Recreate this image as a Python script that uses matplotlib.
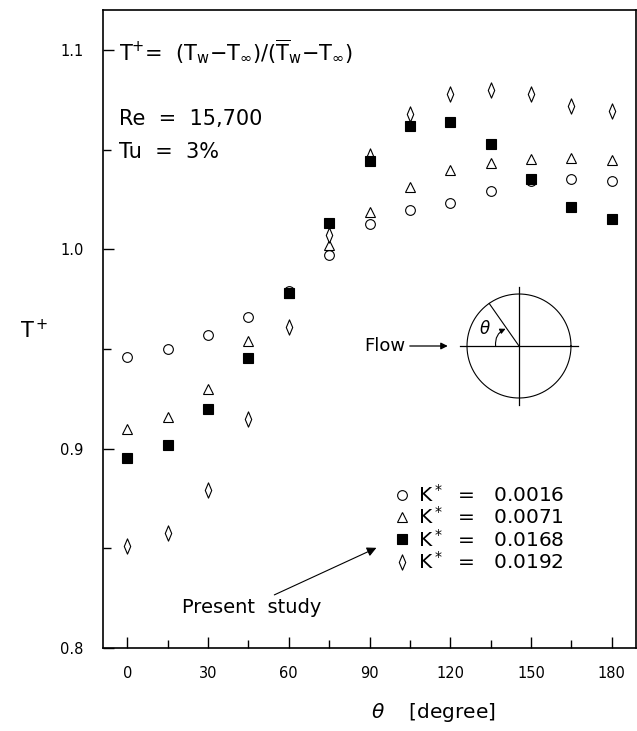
import numpy as np
import matplotlib
matplotlib.use("Agg")
import matplotlib.pyplot as plt
from matplotlib.path import Path
from matplotlib.ticker import MultipleLocator

# angular position around the cylinder, degrees from the front stagnation point
theta = [0, 15, 30, 45, 60, 75, 90, 105, 120, 135, 150, 165, 180]

# T+ distributions for each roughness parameter K*
t_k0016 = [0.946, 0.950, 0.957, 0.966, 0.979, 0.997, 1.0125, 1.0195, 1.023, 1.029, 1.034, 1.035, 1.034]
t_k0071 = [0.910, 0.916, 0.930, 0.954, 0.978, 1.002, 1.0185, 1.031, 1.0395, 1.0435, 1.0455, 1.046, 1.045]
t_k0168 = [0.8955, 0.902, 0.920, 0.9455, 0.978, 1.013, 1.0445, 1.062, 1.064, 1.053, 1.035, 1.021, 1.015]
t_k0192 = [0.851, 0.8575, 0.879, 0.915, 0.961, 1.007, 1.047, 1.068, 1.078, 1.080, 1.078, 1.072, 1.0695]

k_labels = ["0.0016", "0.0071", "0.0168", "0.0192"]
x_ticks = [0, 30, 60, 90, 120, 150, 180]
y_ticks = [0.8, 0.9, 1.0, 1.1]

# tall, narrow diamond like the plotter symbol
thin_diamond = Path([(0, 1), (0.42, 0), (0, -1), (-0.42, 0), (0, 1)],
                    [Path.MOVETO, Path.LINETO, Path.LINETO, Path.LINETO, Path.CLOSEPOLY])

W, H = 637, 731
fig = plt.figure(figsize=(W / 100, H / 100), dpi=100)
ax = fig.add_axes([103 / W, 1 - 648 / H, 533 / W, 638 / H])

mk = dict(linestyle="none", markeredgecolor="black", markeredgewidth=0.8)
h1, = ax.plot(theta, t_k0016, marker="o", markersize=7, markerfacecolor="white", **mk)
h2, = ax.plot(theta, t_k0071, marker="^", markersize=6.5, markerfacecolor="white", **mk)
h4, = ax.plot(theta, t_k0192, marker=thin_diamond, markersize=11, markerfacecolor="white", **mk)
h3, = ax.plot(theta, t_k0168, marker="s", markersize=6.5, markerfacecolor="black", **mk)

ax.set_xlim(-9, 189)
ax.set_ylim(0.8, 1.12)
ax.set_xticks(x_ticks)
ax.set_yticks(y_ticks)
ax.set_yticklabels(["0.8", "0.9", "1.0", "1.1"])
ax.xaxis.set_minor_locator(MultipleLocator(15))
ax.yaxis.set_minor_locator(MultipleLocator(0.05))
ax.tick_params(which="major", direction="in", length=8, width=1, labelsize=10.5, pad=14)
ax.tick_params(which="minor", direction="in", length=6, width=1)
ax.tick_params(axis="x", which="major", pad=13)
for s in ax.spines.values():
    s.set_linewidth(1.2)

ax.set_xlabel(r"$\theta$    [degree]", fontsize=14.5)
ax.xaxis.set_label_coords(0.62, -0.083)
fig.text(20 / W, 1 - 330 / H, r"T$^+$", fontsize=15, ha="left", va="center")

# header texts
eq = (r"T$^{+}$=  (T$_\mathrm{w}$$-$T$_\infty$)/"
      r"($\overline{\mathrm{T}}_\mathrm{w}$$-$T$_\infty$)")
ax.text(0.03, 0.934, eq, transform=ax.transAxes, fontsize=15, va="center")
ax.text(0.03, 0.829, "Re  =  15,700", transform=ax.transAxes, fontsize=15, va="center")
ax.text(0.03, 0.777, "Tu  =  3%", transform=ax.transAxes, fontsize=15, va="center")

leg = ax.legend([h1, h2, h3, h4], [r"K$^*$  =   " + k for k in k_labels],
                loc="upper left", bbox_to_anchor=(0.535, 0.27), frameon=False,
                fontsize=14.5, handlelength=0.6, handletextpad=0.5, labelspacing=0.02,
                borderaxespad=0)

ax.annotate("Present  study", xy=(0.513, 0.157), xytext=(0.148, 0.064),
            xycoords="axes fraction", textcoords="axes fraction", fontsize=14,
            va="center", ha="left",
            arrowprops=dict(arrowstyle="-|>", color="black", lw=0.8,
                            shrinkA=0, shrinkB=0, relpos=(0.62, 1.0)))

# cylinder sketch with flow direction and angle definition
cx, cy, r = 519, 346, 52
half = 64
ins = fig.add_axes([(cx - half) / W, 1 - (cy + half) / H, 2 * half / W, 2 * half / H])
ins.set_xlim(-half / r, half / r)
ins.set_ylim(-half / r, half / r)
ins.set_aspect("equal")
ins.axis("off")
phi = np.linspace(0, 2 * np.pi, 200)
ins.plot(np.cos(phi), np.sin(phi), color="black", lw=0.8)
ins.plot([-1.13, 1.13], [0, 0], color="black", lw=0.9)
ins.plot([0, 0], [-1.13, 1.13], color="black", lw=0.9)
a = np.deg2rad(125)
ins.plot([0, np.cos(a)], [0, np.sin(a)], color="black", lw=0.8)
ins.annotate("", xy=(0.42 * np.cos(np.deg2rad(128)), 0.42 * np.sin(np.deg2rad(128))),
             xytext=(-0.45, 0.0), arrowprops=dict(arrowstyle="-|>", color="black", lw=0.8,
                                                  connectionstyle="arc3,rad=-0.35",
                                                  shrinkA=0, shrinkB=0, mutation_scale=8))
ins.text(-0.66, 0.32, r"$\theta$", fontsize=12, ha="center", va="center")
ins.text(-2.98, 0, "Flow", fontsize=13, ha="left", va="center", clip_on=False)
ins.annotate("", xy=(-1.37, 0), xytext=(-2.1, 0),
             arrowprops=dict(arrowstyle="-|>", color="black", lw=0.9, shrinkA=0, shrinkB=0),
             annotation_clip=False)

fig.savefig("out.png", dpi=100)
